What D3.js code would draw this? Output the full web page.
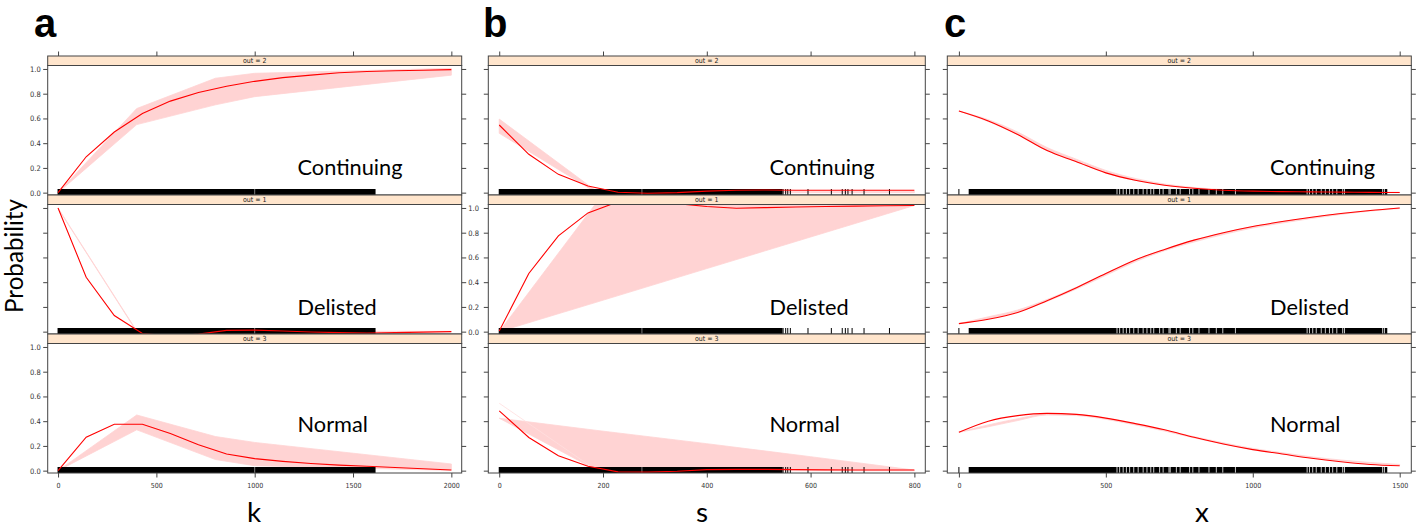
<!DOCTYPE html>
<html><head><meta charset="utf-8">
<script src="https://cdn.jsdelivr.net/npm/d3@7"></script>
<style>body{margin:0;background:#fff} svg{display:block}</style>
</head><body><svg id="chart" width="1416" height="529"></svg>
<script>
// ---------------- DATA ----------------
const panelLetters = ['a', 'b', 'c'];
const xAxisTitles = ['k', 's', 'x'];
const outcomeNames = ['Continuing', 'Delisted', 'Normal'];
const stripLabels = ['out = 2', 'out = 1', 'out = 3'];
const yTicks = [0, 0.2, 0.4, 0.6, 0.8, 1.0];
const yTickLabels = ['0.0', '0.2', '0.4', '0.6', '0.8', '1.0'];
const xTicksK = [0, 500, 1000, 1500, 2000];
const xTicksS = [0, 200, 400, 600, 800];
const xTicksX = [0, 500, 1000, 1500];

// panel a : k
const kGrid = [0, 143, 286, 429, 571, 714, 857, 1000, 1143, 1286, 1429, 1571, 1714, 1857, 2000];
const kContinuing = [0, 0.29, 0.49, 0.64, 0.74, 0.81, 0.86, 0.90, 0.93, 0.95, 0.97, 0.98, 0.985, 0.99, 0.995];
const kDelisted = [1.0, 0.44, 0.13, -0.015, -0.035, -0.02, 0.01, 0.012, 0.005, -0.003, -0.008, -0.012, -0.008, -0.004, 0.0];
const kNormal = [0, 0.27, 0.375, 0.375, 0.30, 0.21, 0.135, 0.097, 0.075, 0.058, 0.045, 0.035, 0.025, 0.015, 0.005];
const kBandX = [0, 400, 800, 1000, 2000];
const kContLo = [0, 0.55, 0.71, 0.776, 0.95];
const kContHi = [0, 0.68, 0.925, 0.965, 1.005];
const kDelLo = [0.995, 0, 0, 0, 0];
const kDelHi = [1.0, 0.006, 0.003, 0.003, 0.003];
const kNormLo = [0, 0.33, 0.09, 0.04, 0.002];
const kNormHi = [0, 0.45, 0.276, 0.228, 0.054];
const kRugSpans = [[0, 1612]];
const kRugGaps = [1000];
const kRugTicks = [];

// panel b : s
const sGrid = [0, 57, 114, 171, 229, 286, 343, 400, 457, 514, 571, 629, 686, 743, 800];
const sContinuing = [0.547, 0.31, 0.148, 0.054, 0.003, -0.005, 0.0, 0.012, 0.02, 0.022, 0.02, 0.02, 0.02, 0.02, 0.02];
const sDelisted = [0.005, 0.47, 0.775, 0.96, 1.05, 1.07, 1.035, 1.012, 0.998, 1.003, 1.008, 1.012, 1.015, 1.018, 1.02];
const sNormal = [0.483, 0.268, 0.12, 0.035, -0.01, -0.012, -0.005, 0.008, 0.01, 0.01, 0.008, 0.006, 0.005, 0.005, 0.005];
const sBandX = [0, 185, 400, 600, 800];
const sContLo = [0.48, 0.005, 0, 0, 0];
const sContHi = [0.595, 0.02, 0.01, 0.01, 0.01];
const sDelLo = [0, 0.235, 0.51, 0.765, 1.02];
const sDelHi = [0, 1.03, 1.06, 1.06, 1.02];
const sNormLo = [0.424, 0.01, 0, 0, 0];
const sNormHi = [0.424, 0.327, 0.218, 0.113, 0.005];
const sNormFaint = [0.545, 0.01, 0, 0, 0];
const sRugSpans = [[0, 545]];
const sRugGaps = [275];
const sRugTicks = [547, 552, 556, 561, 595, 640, 661, 667, 672, 680, 703, 752];

// panel c : x
const xGrid = [0, 100, 200, 300, 400, 500, 600, 700, 800, 900, 1000, 1100, 1200, 1300, 1400, 1500];
const xContinuing = [0.66, 0.58, 0.47, 0.34, 0.25, 0.16, 0.10, 0.06, 0.035, 0.02, 0.012, 0.008, 0.006, 0.004, 0.002, 0.001];
const xDelisted = [0.065, 0.10, 0.155, 0.25, 0.355, 0.47, 0.58, 0.665, 0.74, 0.80, 0.85, 0.89, 0.925, 0.955, 0.98, 1.0];
const xNormal = [0.31, 0.40, 0.445, 0.463, 0.455, 0.425, 0.38, 0.33, 0.27, 0.215, 0.17, 0.135, 0.10, 0.072, 0.05, 0.04];
const xContLo = [0.66, 0.575, 0.47, 0.34, 0.25, 0.16, 0.10, 0.06, 0.035, 0.02, 0.012, 0.008, 0.006, 0.004, 0.002, 0.001];
const xContHi = [0.66, 0.59, 0.49, 0.365, 0.27, 0.18, 0.115, 0.07, 0.042, 0.025, 0.015, 0.011, 0.009, 0.007, 0.005, 0.004];
const xDelLo = [0.065, 0.105, 0.16, 0.245, 0.345, 0.455, 0.565, 0.655, 0.725, 0.785, 0.838, 0.878, 0.915, 0.948, 0.975, 0.995];
const xDelHi = [0.065, 0.12, 0.175, 0.26, 0.36, 0.47, 0.58, 0.665, 0.74, 0.80, 0.85, 0.89, 0.925, 0.955, 0.98, 1.0];
const xNormLo = [0.31, 0.355, 0.405, 0.45, 0.445, 0.415, 0.37, 0.32, 0.265, 0.215, 0.172, 0.138, 0.105, 0.08, 0.06, 0.045];
const xNormHi = [0.31, 0.37, 0.42, 0.46, 0.455, 0.42, 0.375, 0.327, 0.275, 0.225, 0.18, 0.145, 0.112, 0.086, 0.066, 0.05];
const xRugSpans = [[35, 1456]];
const xRugGaps = [538, 547, 559, 570, 581, 595, 610, 627, 640, 653, 663, 683, 695, 715, 719, 740, 753, 785, 796, 817, 851, 876, 898, 941, 1185, 1193, 1204, 1216, 1233, 1247, 1261, 1272, 1286, 1306, 1312, 1442, 1448];
const xRugTicks = [0];

// outcome label anchor (x in data units, y in probability units)
const labelX = [1218, 521, 1059];
const labelY = [0.143, 0.135, 0.31];

// ---------------- BUILD ----------------
const panels = [
  {domain: [0, 2000], ticks: xTicksK, grid: kGrid, series: [kContinuing, kDelisted, kNormal],
   bandX: kBandX, bands: [[kContLo, kContHi], [kDelLo, kDelHi], [kNormLo, kNormHi]], faint: [null, null, null],
   rugSpans: kRugSpans, rugGaps: kRugGaps, rugTicks: kRugTicks, curve: d3.curveLinear, gapColor: '#999'},
  {domain: [0, 800], ticks: xTicksS, grid: sGrid, series: [sContinuing, sDelisted, sNormal],
   bandX: sBandX, bands: [[sContLo, sContHi], [sDelLo, sDelHi], [sNormLo, sNormHi]], faint: [null, null, sNormFaint],
   rugSpans: sRugSpans, rugGaps: sRugGaps, rugTicks: sRugTicks, curve: d3.curveLinear, gapColor: '#999'},
  {domain: [0, 1500], ticks: xTicksX, grid: xGrid, series: [xContinuing, xDelisted, xNormal],
   bandX: xGrid, bands: [[xContLo, xContHi], [xDelLo, xDelHi], [xNormLo, xNormHi]], faint: [null, null, null],
   rugSpans: xRugSpans, rugGaps: xRugGaps, rugTicks: xRugTicks, curve: d3.curveMonotoneX, gapColor: '#fff'}
];

const svg = d3.select('#chart');
const colFrames = [[47.7, 461.7], [488.3, 925.3], [947.3, 1411.3]];
const rowTop0 = 56, rowPitch = 139, stripH = 9.5, plotH = 129.5;
const frameColor = '#444';
const tickFont = "'Liberation Sans Narrow','DejaVu Sans Condensed','Liberation Sans',sans-serif";
const bigFont = "Lato, 'Open Sans', sans-serif";
const bandColor = '#ffd3d3';

const defs = svg.append('defs');

panels.forEach((p, j) => {
  const [L, R] = colFrames[j];
  const pad = 0.025 * (R - L);
  const x = d3.scaleLinear().domain(p.domain).range([L + pad, R - pad]);
  const g = svg.append('g');

  for (let r = 0; r < 3; r++) {
    const sTop = rowTop0 + r * rowPitch;
    const pTop = sTop + stripH, pBot = pTop + plotH;
    const y = d3.scaleLinear().domain([-0.019, 1.028]).range([pBot, pTop]);
    const clipId = `clip-${j}-${r}`;
    defs.append('clipPath').attr('id', clipId).append('rect')
      .attr('x', L).attr('y', pTop).attr('width', R - L).attr('height', plotH);
    const pg = g.append('g').attr('clip-path', `url(#${clipId})`);

    // band
    const bx = p.bandX, [lo, hi] = p.bands[r];
    const area = d3.area().x((d, i) => x(bx[i])).y0((d, i) => y(lo[i])).y1((d, i) => y(hi[i])).curve(p.curve);
    pg.append('path').attr('d', area(bx)).attr('fill', bandColor).attr('stroke', bandColor).attr('stroke-width', 0.8);
    if (p.faint[r]) {
      const fl = p.faint[r];
      pg.append('path').attr('d', d3.line().x((d, i) => x(bx[i])).y((d, i) => y(fl[i]))(bx))
        .attr('fill', 'none').attr('stroke', '#ffdede').attr('stroke-width', 0.8);
    }

    // rug
    const rugTop = pBot - 6;
    p.rugSpans.forEach(s => {
      pg.append('rect').attr('x', x(s[0]) - 0.5).attr('y', rugTop)
        .attr('width', x(s[1]) - x(s[0]) + 1).attr('height', pBot - rugTop).attr('fill', '#000');
    });
    p.rugGaps.forEach(v => {
      pg.append('line').attr('x1', x(v)).attr('x2', x(v)).attr('y1', rugTop).attr('y2', pBot)
        .attr('stroke', p.gapColor).attr('stroke-width', 0.8);
    });
    p.rugTicks.forEach(v => {
      pg.append('line').attr('x1', x(v)).attr('x2', x(v)).attr('y1', rugTop).attr('y2', pBot)
        .attr('stroke', '#000').attr('stroke-width', 1);
    });

    // fitted line
    const vals = p.series[r];
    const line = d3.line().x((d, i) => x(p.grid[i])).y((d, i) => y(vals[i])).curve(p.curve);
    pg.append('path').attr('d', line(p.grid)).attr('fill', 'none').attr('stroke', '#ff0000').attr('stroke-width', 1.1);

    // strip
    g.append('rect').attr('x', L).attr('y', sTop).attr('width', R - L).attr('height', stripH)
      .attr('fill', '#ffe5cc').attr('stroke', frameColor).attr('stroke-width', 1);
    g.append('text').attr('x', (L + R) / 2).attr('y', sTop + stripH / 2 + 2.4)
      .attr('text-anchor', 'middle').attr('font-family', tickFont).attr('font-size', 7)
      .attr('fill', '#222').text(stripLabels[r]);

    // frame
    g.append('rect').attr('x', L).attr('y', pTop).attr('width', R - L).attr('height', plotH)
      .attr('fill', 'none').attr('stroke', frameColor).attr('stroke-width', 1);

    // y ticks both sides
    const leftAxis = d3.axisLeft(y).tickValues(yTicks).tickSizeOuter(0).tickSizeInner(4.5)
      .tickFormat((d, i) => (j === 0 && r !== 1) ? yTickLabels[i] : '');
    const ya = g.append('g').attr('transform', `translate(${L},0)`).call(leftAxis);
    const rightAxis = d3.axisRight(y).tickValues(yTicks).tickSizeOuter(0).tickSizeInner(4.5)
      .tickFormat((d, i) => (j === 0 && r === 1) ? yTickLabels[i] : '');
    const yb = g.append('g').attr('transform', `translate(${R},0)`).call(rightAxis);
    [ya, yb].forEach(a => {
      a.select('.domain').remove();
      a.selectAll('line').attr('stroke', frameColor);
      a.selectAll('text').attr('font-family', tickFont).attr('font-size', 7.5).attr('fill', '#333');
    });
    ya.selectAll('text').attr('x', -7);
    yb.selectAll('text').attr('x', 6.5);

    // outcome label
    g.append('text').attr('class', 'outlab').attr('x', x(labelX[j])).attr('y', y(labelY[r]))
      .attr('font-family', bigFont).attr('fill', '#000').text(outcomeNames[r]);

    if (r === 0) {
      const ta = d3.axisTop(x).tickValues(p.ticks).tickSizeOuter(0).tickSizeInner(4.5).tickFormat('');
      const t = g.append('g').attr('transform', `translate(0,${sTop})`).call(ta);
      t.select('.domain').remove();
      t.selectAll('line').attr('stroke', frameColor);
    }
    if (r === 2) {
      const ba = d3.axisBottom(x).tickValues(p.ticks).tickSizeOuter(0).tickSizeInner(4.5).tickFormat(d3.format('d'));
      const b = g.append('g').attr('transform', `translate(0,${pBot})`).call(ba);
      b.select('.domain').remove();
      b.selectAll('line').attr('stroke', frameColor);
      b.selectAll('text').attr('font-family', tickFont).attr('font-size', 7).attr('fill', '#333').attr('dy', '0.71em').attr('y', 10.5);
    }
  }
});

// fit big label font size to the reference width of "Continuing"
const probe = svg.append('text').attr('font-family', bigFont).attr('font-size', 100).text('Continuing');
const w100 = probe.node().getComputedTextLength();
probe.remove();
const labSize = 100 * 105 / w100;
svg.selectAll('.outlab').attr('font-size', labSize);

// axis titles
const axisTitleX = [254, 702, 1202];
xAxisTitles.forEach((t, j) => {
  svg.append('text').attr('x', axisTitleX[j]).attr('y', 522).attr('text-anchor', 'middle')
    .attr('font-family', bigFont).attr('font-size', labSize * 1.28).attr('fill', '#000').text(t);
});

// y title
const yt = svg.append('text').attr('transform', 'translate(22.5,256) rotate(-90)').attr('text-anchor', 'middle')
  .attr('font-family', bigFont).attr('font-size', 100).attr('fill', '#000').text('Probability');
const wy = yt.node().getComputedTextLength();
yt.attr('font-size', 100 * 114 / wy);

// panel letters
const letterX = [34, 483, 944];
panelLetters.forEach((t, j) => {
  svg.append('text').attr('x', letterX[j]).attr('y', 36.5).attr('font-family', "'Liberation Sans', Arial, sans-serif")
    .attr('font-weight', 'bold').attr('font-size', 40).attr('fill', '#000').text(t);
});
</script></body></html>
